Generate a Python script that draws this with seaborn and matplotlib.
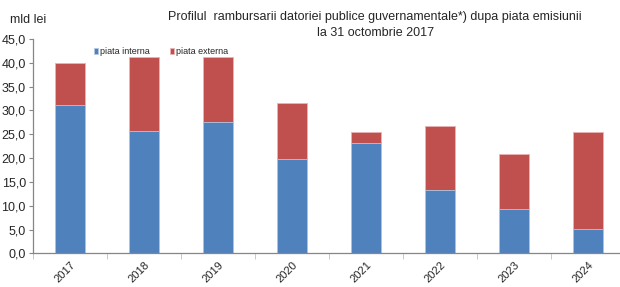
import seaborn as sns
import pandas as pd
import matplotlib.pyplot as plt
from matplotlib.ticker import FuncFormatter, FixedLocator

years = ['2017', '2018', '2019', '2020', '2021', '2022', '2023', '2024']
interna = [31.1, 25.6, 27.5, 19.8, 23.1, 13.3, 9.3, 5.1]
externa = [8.9, 15.7, 13.8, 11.8, 2.4, 13.5, 11.5, 20.3]

df = pd.DataFrame({'an': years, 'interna': interna, 'externa': externa})
df['total'] = df['interna'] + df['externa']

sns.set_style('white')
plt.rcParams['font.family'] = ['Liberation Sans', 'DejaVu Sans']

blue = '#4F81BD'
red = '#C0504D'

fig = plt.figure(figsize=(6.2, 2.87), dpi=100)
ax = fig.add_axes([0.053, 0.117, 0.947, 0.747])

sns.barplot(data=df, x='an', y='total', color=red, width=0.4, saturation=1,
            edgecolor='#E8B4B3', linewidth=0.6, ax=ax, label='piata externa')
sns.barplot(data=df, x='an', y='interna', color=blue, width=0.4, saturation=1,
            edgecolor='#B4C8E2', linewidth=0.6, ax=ax, label='piata interna')

ax.set_ylim(0, 45)
ax.set_xlim(-0.5, 7.43)
ax.set_yticks([0, 5, 10, 15, 20, 25, 30, 35, 40, 45])
ax.yaxis.set_major_formatter(FuncFormatter(lambda v, p: f'{v:.1f}'.replace('.', ',')))
ax.set_xlabel('')
ax.set_ylabel('')

for s in ['top', 'right']:
    ax.spines[s].set_visible(False)
for s in ['left', 'bottom']:
    ax.spines[s].set_color('#868686')
    ax.spines[s].set_linewidth(0.9)

ax.tick_params(axis='y', left=True, length=3, color='#868686', labelsize=9, pad=2)
ax.tick_params(axis='x', bottom=False, labelsize=8, pad=1)
ax.xaxis.set_minor_locator(FixedLocator([i + 0.5 for i in range(-1, 8)]))
ax.tick_params(axis='x', which='minor', bottom=True, length=4, color='#BFBFBF')
plt.setp(ax.get_xticklabels(), rotation=45, ha='right', rotation_mode='anchor')

handles, labels = ax.get_legend_handles_labels()
leg = ax.legend(handles[::-1], labels[::-1], ncol=2, loc='upper left',
                bbox_to_anchor=(0.09, 1.0), frameon=False, fontsize=6.5,
                handlelength=0.5, handleheight=0.5, handletextpad=0.2,
                columnspacing=2.2)

fig.text(0.605, 0.94, 'Profilul  rambursarii datoriei publice guvernamentale*) dupa piata emisiunii',
         ha='center', va='center', fontsize=9)
fig.text(0.605, 0.885, 'la 31 octombrie 2017', ha='center', va='center', fontsize=9)
fig.text(0.016, 0.93, 'mld lei', ha='left', va='center', fontsize=9)

fig.savefig('out.png', dpi=100)
